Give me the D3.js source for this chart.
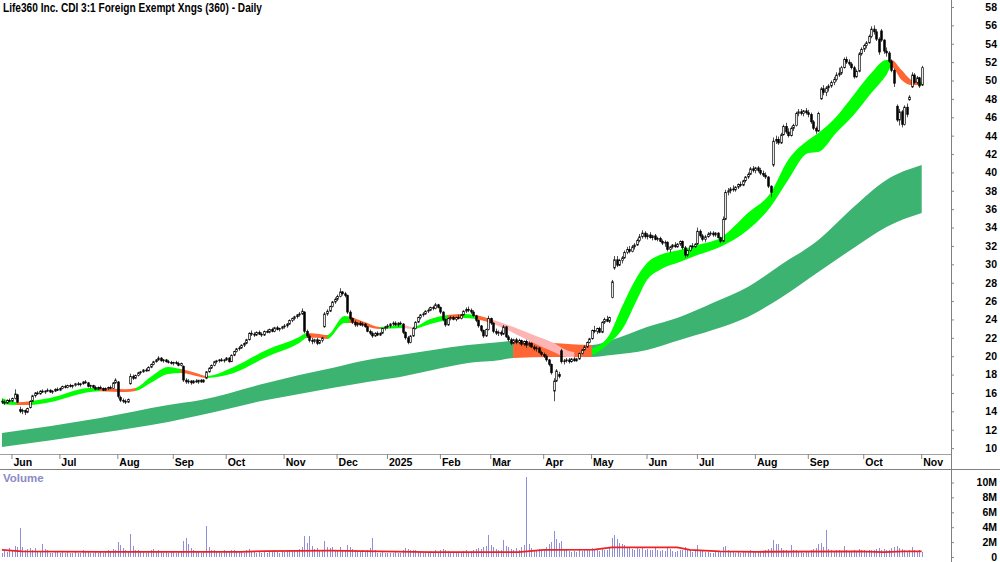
<!DOCTYPE html>
<html>
<head>
<meta charset="utf-8">
<script src="https://cdn.jsdelivr.net/npm/d3@7"></script>
<style>
  html, body { margin: 0; padding: 0; background: #fff; }
  svg { display: block; font-family: "Liberation Sans", Arial, sans-serif; }
</style>
</head>
<body>
<div id="chart"></div>
<script>
const title = 'Life360 Inc. CDI 3:1 Foreign Exempt Xngs (360) - Daily';

// ASX trading calendar
const firstDay = '2024-05-28';
const lastDay = '2025-11-03';
const holidays = ['2024-06-10', '2024-12-25', '2024-12-26', '2025-01-01', '2025-01-27',
  '2025-04-18', '2025-04-21', '2025-04-25', '2025-06-09'];

// daily [open, high, low, close, volume in millions]
const may24 = [[15.1,15.3,14.8,15.0,0.6],[15.0,15.2,14.7,14.9,0.9],[14.9,15.3,14.8,15.2,0.7],[15.2,15.4,15.0,15.1,1.2]];
const jun24 = [[15.1,15.5,15.0,15.4,0.8],[15.4,16.4,15.3,15.9,1.5],[15.8,15.9,14.9,15.0,1.3],[14.2,14.5,13.8,14.0,3.9],[14.0,14.3,13.7,14.1,1.4],[14.1,14.2,13.6,13.9,1.0],[13.9,14.4,13.8,14.3,1.1],[14.4,15.2,14.3,15.1,1.2],[15.1,15.8,15.0,15.7,0.9],[15.7,16.1,15.5,16.0,1.2],[16.0,16.2,15.8,15.9,0.7],[15.9,16.3,15.8,16.2,0.8],[16.2,16.4,16.0,16.1,1.8],[16.1,16.3,15.9,16.2,1.1],[16.2,16.5,16.1,16.3,0.9],[16.3,16.4,16.0,16.1,0.6],[16.1,16.3,15.9,16.2,0.6],[16.2,16.5,16.1,16.4,0.7],[16.4,16.6,16.2,16.3,0.8]];
const jul24 = [[16.3,16.6,16.2,16.5,0.5],[16.5,16.8,16.4,16.7,0.8],[16.7,16.9,16.5,16.6,0.6],[16.6,16.9,16.5,16.8,0.7],[16.8,17.0,16.6,16.7,0.5],[16.7,16.9,16.5,16.8,0.6],[16.8,17.1,16.7,17.0,0.8],[17.0,17.2,16.8,16.9,0.6],[16.9,17.1,16.7,17.0,0.5],[17.0,17.3,16.9,17.2,0.9],[17.2,17.4,17.0,17.1,0.7],[17.1,17.2,16.6,16.7,0.8],[16.7,16.9,16.5,16.8,0.6],[16.8,16.9,16.5,16.6,0.5],[16.6,16.8,16.3,16.4,0.7],[16.4,16.7,16.3,16.6,0.6],[16.6,16.8,16.4,16.5,0.8],[16.5,16.6,16.2,16.3,0.6],[16.3,16.6,16.2,16.5,0.7],[16.5,16.7,16.3,16.6,1.0],[16.6,16.8,16.4,16.5,0.7],[16.5,17.2,16.5,17.1,1.1],[17.1,17.6,17.0,17.4,0.9]];
const aug24 = [[17.2,17.3,15.4,15.6,2.0],[15.5,15.7,15.0,15.2,1.6],[15.2,15.4,14.9,15.1,1.2],[15.1,15.3,14.8,15.0,0.9],[15.0,15.4,14.9,15.3,0.8],[17.0,18.1,16.9,17.8,3.1],[17.8,18.0,17.4,17.6,1.5],[17.6,18.0,17.5,17.9,1.0],[17.9,18.3,17.8,18.2,0.9],[18.2,18.4,18.0,18.3,0.8],[18.3,18.6,18.2,18.5,0.7],[18.5,18.7,18.3,18.4,0.6],[18.4,18.9,18.4,18.8,0.8],[18.8,19.2,18.7,19.1,0.9],[19.1,19.5,19.0,19.4,1.1],[19.4,19.7,19.3,19.6,0.8],[19.6,20.0,19.5,19.8,0.9],[19.8,19.9,19.4,19.5,0.7],[19.5,19.7,19.3,19.6,0.6],[19.6,19.7,19.3,19.4,0.7],[19.4,19.6,19.2,19.3,0.6],[19.3,19.5,19.1,19.2,0.8]];
const sep24 = [[19.2,19.4,19.0,19.3,0.7],[19.3,19.5,19.1,19.2,0.6],[19.2,19.4,18.9,19.0,0.8],[19.0,19.3,18.9,19.2,0.7],[18.9,19.0,17.2,17.4,2.2],[17.4,17.6,17.0,17.2,2.6],[17.2,17.5,17.0,17.3,1.8],[17.3,17.4,16.9,17.1,1.2],[17.1,17.4,17.0,17.3,0.9],[17.3,17.5,17.1,17.2,0.8],[17.2,17.4,17.0,17.4,0.7],[17.4,17.5,17.1,17.2,0.6],[17.2,17.5,17.1,17.4,0.8],[17.6,18.4,17.5,18.3,4.1],[18.3,18.8,18.2,18.7,1.3],[18.7,19.1,18.6,19.0,1.0],[19.0,19.5,18.9,19.4,0.9],[19.4,19.6,19.2,19.5,0.8],[19.5,19.7,19.3,19.6,0.7],[19.6,19.8,19.4,19.5,0.6],[19.5,19.7,19.3,19.6,0.9]];
const oct24 = [[19.6,19.9,19.5,19.8,0.7],[19.8,19.9,19.3,19.4,0.8],[19.4,20.2,19.4,20.1,1.0],[20.1,20.6,20.0,20.5,0.9],[20.5,20.9,20.4,20.8,0.8],[20.8,21.1,20.6,20.9,0.7],[20.9,21.3,20.8,21.2,0.8],[21.2,21.5,21.0,21.4,0.6],[21.4,21.9,21.3,21.8,0.9],[21.8,22.6,21.7,22.5,1.1],[22.5,22.8,22.2,22.4,0.8],[22.4,22.6,22.1,22.3,0.7],[22.3,22.7,22.2,22.6,0.6],[22.6,22.8,22.3,22.4,0.7],[22.4,22.6,22.1,22.3,0.6],[22.3,22.8,22.2,22.7,0.8],[22.7,22.9,22.5,22.6,0.6],[22.6,23.0,22.5,22.9,0.7],[22.9,23.1,22.6,22.7,0.8],[22.7,23.2,22.6,23.1,0.9],[23.1,23.3,22.8,22.9,0.7],[22.9,23.1,22.7,23.0,0.6],[23.0,23.3,22.9,23.2,0.8]];
const nov24 = [[23.2,23.5,23.0,23.3,0.7],[23.3,23.6,23.1,23.5,0.8],[23.5,24.0,23.4,23.9,0.9],[23.9,24.2,23.7,24.1,0.8],[24.1,24.4,23.9,24.3,0.9],[24.3,24.6,24.1,24.5,1.0],[24.5,24.8,24.3,24.6,1.1],[24.6,25.2,24.5,24.9,1.3],[24.8,24.9,22.5,22.7,2.8],[22.7,22.9,22.0,22.2,1.9],[22.2,22.4,21.5,21.7,2.8],[21.7,22.0,21.3,21.6,1.5],[21.6,21.9,21.4,21.8,1.1],[21.8,22.0,21.2,21.4,1.2],[21.4,21.8,21.3,21.7,0.9],[21.7,22.1,21.5,22.0,1.0],[23.2,24.8,23.1,24.6,2.1],[24.6,25.1,24.4,24.9,1.4],[24.9,25.5,24.8,25.4,1.2],[25.4,26.0,25.3,25.9,1.3],[25.9,26.4,25.7,26.2,1.0]];
const dec24 = [[26.2,26.7,26.0,26.5,1.0],[26.5,27.4,26.4,27.0,1.3],[27.0,27.1,26.6,26.8,0.9],[26.8,27.0,26.4,26.6,0.8],[26.6,26.7,24.6,24.8,1.6],[24.8,25.0,23.9,24.1,1.4],[24.1,24.2,23.5,23.7,1.1],[23.7,23.9,23.2,23.4,0.9],[23.4,23.7,23.2,23.6,0.8],[23.6,23.8,23.3,23.4,0.7],[23.4,23.7,23.2,23.5,0.9],[23.5,23.6,23.1,23.2,0.8],[23.2,23.3,22.6,22.7,1.0],[22.7,22.9,22.3,22.5,1.2],[22.5,22.7,22.0,22.2,2.6],[22.2,22.6,22.1,22.5,0.9],[22.5,22.7,22.2,22.3,0.6],[22.3,22.6,22.2,22.5,0.5],[22.5,23.1,22.4,23.0,0.7],[23.0,23.3,22.8,23.2,0.6]];
const jan25 = [[23.2,23.5,23.0,23.3,0.6],[23.3,23.6,23.1,23.5,0.5],[23.5,23.8,23.3,23.6,0.6],[23.6,23.8,23.3,23.4,0.7],[23.4,23.7,23.2,23.6,0.6],[23.6,23.8,23.4,23.5,0.5],[23.5,23.6,22.4,22.6,1.0],[22.6,22.7,21.8,22.0,1.2],[22.0,22.2,21.3,21.5,1.1],[21.5,22.3,21.4,22.2,0.9],[22.2,23.2,22.1,23.0,1.0],[23.0,23.8,22.9,23.7,0.9],[23.7,24.3,23.6,24.2,0.8],[24.2,24.6,24.0,24.5,0.7],[24.5,24.8,24.3,24.6,0.6],[24.6,25.0,24.5,24.9,0.7],[24.9,25.2,24.7,25.0,0.6],[25.0,25.4,24.9,25.3,0.8],[25.3,25.5,25.0,25.2,0.6],[25.2,25.8,25.1,25.6,0.9],[25.6,25.7,25.2,25.3,0.7]];
const feb25 = [[25.3,25.4,24.6,24.8,0.9],[24.8,24.9,23.8,24.0,1.1],[24.0,24.1,23.2,23.4,1.0],[23.4,24.2,23.3,24.1,0.8],[24.1,24.4,23.9,24.2,0.7],[24.2,24.4,23.9,24.0,0.6],[24.0,24.3,23.8,24.2,0.7],[24.2,24.5,24.0,24.1,0.6],[24.1,24.6,24.0,24.5,0.7],[24.5,25.0,24.4,24.9,0.8],[24.9,25.3,24.7,25.1,0.9],[25.1,25.4,24.8,25.0,0.7],[25.0,25.2,24.6,24.8,0.8],[24.8,25.0,24.3,24.4,1.0],[24.4,24.5,23.7,23.9,1.1],[23.9,24.0,23.1,23.3,1.2],[23.3,23.4,22.6,22.8,1.1],[22.8,22.9,22.0,22.2,1.3],[22.2,23.0,22.1,22.9,1.5],[22.9,24.4,22.8,24.1,3.0]];
const mar25 = [[24.1,24.2,23.4,23.6,1.6],[23.6,23.7,22.5,22.7,1.3],[22.7,23.0,22.3,22.5,1.1],[22.5,22.8,22.2,22.6,0.9],[22.6,22.8,22.2,22.4,1.0],[22.4,23.4,22.3,23.2,2.3],[23.2,23.3,22.0,22.1,1.5],[22.1,22.3,21.6,21.8,1.3],[21.8,22.0,21.2,21.4,1.1],[21.4,21.9,21.3,21.8,1.0],[21.8,22.0,21.3,21.5,1.2],[21.5,21.9,21.3,21.7,0.9],[21.7,21.8,21.1,21.3,1.4],[21.3,21.7,21.1,21.6,1.6],[21.6,21.8,20.9,21.2,10.8],[21.2,21.6,21.0,21.4,1.8],[21.4,21.5,20.9,21.0,1.2],[21.0,21.2,20.6,20.8,1.0],[20.8,21.1,20.5,20.9,0.9],[20.9,21.0,20.3,20.4,1.1],[20.4,20.6,20.0,20.2,1.0]];
const apr25 = [[20.2,20.4,19.8,20.0,1.1],[20.0,20.2,19.4,19.6,1.3],[19.6,19.7,18.9,19.1,1.8],[19.1,19.2,18.0,18.2,2.0],[16.2,17.6,15.1,17.3,3.5],[17.3,18.6,17.2,18.4,2.4],[18.0,18.3,17.6,17.8,1.9],[20.6,20.8,19.2,19.4,2.2],[19.4,19.7,19.1,19.5,1.0],[19.5,19.8,19.3,19.6,0.9],[19.6,19.8,19.2,19.4,0.8],[19.4,19.8,19.3,19.7,0.7],[19.7,19.9,19.4,19.5,0.8],[19.5,19.8,19.4,19.7,0.7],[19.7,20.4,19.6,20.3,0.9],[20.3,20.8,20.2,20.7,0.8],[20.7,21.2,20.6,21.0,1.0],[21.0,21.6,20.9,21.5,0.9],[21.5,22.0,21.4,21.9,1.1]];
const may25 = [[21.9,22.9,21.8,22.8,1.2],[22.8,23.3,22.5,22.7,1.0],[22.7,23.1,22.4,23.0,0.9],[23.0,23.2,22.5,22.6,0.8],[22.6,23.8,22.5,23.7,1.1],[23.7,24.2,23.5,24.0,1.0],[24.0,24.4,23.7,23.8,0.9],[23.8,24.3,23.6,24.2,1.2],[26.4,28.3,26.3,28.1,2.6],[29.6,30.9,29.4,30.5,3.0],[30.5,30.9,29.7,29.9,2.4],[29.9,30.6,29.8,30.4,1.9],[30.4,30.9,30.1,30.7,1.8],[30.7,31.5,30.6,31.3,1.6],[31.3,31.9,31.1,31.6,1.2],[31.6,32.0,31.2,31.4,1.3],[31.4,32.1,31.3,31.9,1.1],[31.9,32.3,31.6,32.1,1.0],[32.1,32.8,32.0,32.6,1.2],[32.6,33.3,32.4,33.0,1.1],[33.0,33.7,32.8,33.4,1.3],[33.4,33.6,32.8,33.0,1.0]];
const jun25 = [[33.0,33.4,32.7,33.2,1.1],[33.2,33.5,32.8,32.9,1.0],[32.9,33.2,32.6,33.1,0.9],[33.1,33.3,32.6,32.7,1.2],[32.7,33.0,32.5,32.8,0.9],[32.8,33.0,32.4,32.5,0.8],[32.5,32.7,32.1,32.3,0.9],[32.3,32.6,31.9,32.4,0.8],[32.4,32.5,31.4,31.6,1.4],[31.6,32.0,31.3,31.9,1.1],[31.9,32.2,31.7,32.1,0.8],[32.1,32.4,31.8,31.9,0.7],[31.9,32.3,31.8,32.2,0.8],[32.2,32.6,32.0,32.5,0.9],[32.5,32.6,31.6,31.8,1.0],[31.8,32.0,30.7,31.0,1.3],[31.0,31.6,30.8,31.5,1.0],[31.5,32.1,31.4,32.0,0.9],[32.0,32.3,31.7,31.9,0.7],[31.9,32.3,31.8,32.2,0.8]];
const jul25 = [[32.2,34.0,32.1,33.6,1.6],[33.6,33.8,32.9,33.1,1.0],[33.1,33.3,32.5,32.7,0.8],[32.7,33.2,32.4,33.0,0.7],[33.0,33.5,32.9,33.3,0.7],[33.3,33.6,33.1,33.4,0.6],[33.4,33.6,33.0,33.2,0.6],[33.2,33.5,33.0,33.4,0.7],[33.4,33.5,32.8,32.9,0.8],[32.9,33.0,32.3,32.5,0.8],[32.5,35.2,32.4,34.9,1.4],[34.9,38.1,34.8,37.8,1.5],[37.8,38.3,37.5,38.0,1.0],[38.0,38.4,37.7,38.2,0.8],[38.2,38.6,37.9,38.1,0.7],[38.1,38.5,37.9,38.4,0.6],[38.4,38.8,38.2,38.7,0.7],[38.7,39.0,38.4,38.6,0.6],[38.6,39.2,38.5,39.1,0.8],[39.1,39.6,38.9,39.5,0.7],[39.5,40.0,39.3,39.8,0.8],[39.8,40.6,39.7,40.4,0.9],[40.4,40.7,40.0,40.2,0.7]];
const aug25 = [[40.2,40.6,39.9,40.5,0.8],[40.5,40.7,40.0,40.2,0.7],[40.2,40.5,39.7,39.9,0.8],[39.9,40.2,39.5,39.7,0.7],[39.7,40.0,39.3,39.5,0.9],[39.5,39.6,38.3,38.5,1.1],[38.5,38.6,37.3,37.8,1.2],[40.8,43.8,40.6,43.4,2.3],[43.4,44.0,43.1,43.6,1.8],[43.6,43.9,43.0,43.2,1.7],[43.2,44.3,43.1,44.1,1.2],[44.1,45.2,44.0,45.0,1.0],[45.0,45.4,44.2,44.4,0.9],[44.4,44.8,43.8,44.0,0.8],[44.0,45.0,43.9,44.8,1.6],[44.8,45.3,44.5,45.1,0.9],[45.1,46.6,45.0,46.4,1.0],[46.4,46.9,46.1,46.6,0.8],[46.6,46.9,46.2,46.4,0.7],[46.4,46.8,46.1,46.7,0.6],[46.7,47.0,46.3,46.5,0.7]];
const sep25 = [[46.5,46.8,46.0,46.3,0.8],[46.3,46.5,45.3,45.5,1.0],[45.5,45.7,44.6,44.8,1.1],[44.8,45.0,44.2,44.5,1.2],[44.5,46.6,44.4,46.4,1.8],[48.0,49.3,47.9,49.1,1.9],[49.1,49.5,48.4,48.7,1.4],[48.7,49.4,48.3,49.2,3.6],[49.2,49.6,48.8,49.4,1.1],[49.4,50.0,49.2,49.8,0.9],[49.8,50.4,49.5,50.1,0.8],[50.1,50.9,49.9,50.6,0.9],[50.6,51.4,50.4,50.8,1.0],[50.8,51.6,50.6,51.4,0.8],[51.4,52.5,51.3,52.3,1.5],[52.3,52.6,51.8,52.0,1.0],[52.0,52.3,51.6,51.8,0.8],[51.8,52.0,51.2,51.4,0.7],[51.4,51.6,50.2,50.4,1.0],[50.4,51.2,50.3,51.0,0.8],[51.0,53.1,50.9,52.9,1.1],[52.9,53.6,52.7,53.4,0.9]];
const oct25 = [[53.4,54.0,53.1,53.8,0.9],[53.8,54.3,53.5,54.1,0.8],[54.1,55.0,54.0,54.8,0.9],[54.8,55.9,54.6,55.6,1.0],[55.6,56.0,55.0,55.3,0.9],[55.3,55.6,54.3,54.5,1.1],[54.5,54.7,52.8,53.1,1.2],[55.4,55.6,54.2,54.4,1.0],[54.4,54.5,52.9,53.2,1.1],[53.2,53.6,52.6,53.0,0.9],[53.0,53.2,51.9,52.1,1.0],[52.1,52.3,50.9,51.1,1.2],[51.1,51.3,49.3,49.7,1.4],[47.2,47.4,45.5,45.7,1.5],[45.7,46.9,45.1,46.6,1.2],[46.6,46.8,44.9,45.2,1.1],[45.2,47.3,45.1,47.1,1.0],[47.1,47.5,46.0,46.3,0.8],[47.9,48.4,47.8,48.2,0.9],[49.3,50.9,49.2,50.6,1.3],[50.6,50.8,49.6,49.8,1.0],[49.8,50.5,49.6,50.3,0.8],[50.3,50.4,49.2,49.4,0.9]];
const nov25 = [[49.5,51.6,49.4,51.4,0.7]];

// moving average ribbons, read at sample days (index into trading days)
const shortBandIdx = [0,6,11,19,35,39,49,53,59,66,71,77,81,92,105,118,121,125,129,136,138,144,150,159,163,170,177,183,188,195,203,211,219,224,227,234,241,246,252,256,261,269,276,285,296,305,312,320,324,331,338,345,351,353,357,361,365];
const shortBandTop = [15.45,15.0,15.1,15.45,16.54,16.54,16.4,16.54,17.74,18.83,18.6,18.17,17.85,18.83,20.68,22.09,22.53,22.45,22.3,24.38,24.3,23.72,23.18,23.4,23.18,24.05,24.49,24.6,24.49,23.94,23.18,22.31,21.44,20.68,20.46,20.8,22.31,25.35,28.62,30.14,31.0,31.56,32.1,32.86,35.58,37.76,41.35,43.53,44.29,46.03,48.42,50.82,52.23,52.23,51.14,50.06,49.84];
const shortBandBot = [14.8,14.7,14.7,15.0,16.11,16.2,16.1,16.21,17.09,18.07,18.17,17.85,17.63,18.17,19.92,21.44,21.98,22.0,21.87,23.62,23.62,23.29,22.96,23.07,22.96,23.5,23.94,24.16,24.05,23.5,22.53,21.44,20.46,19.92,19.92,20.13,21.44,22.85,26.12,28.29,29.38,30.25,31.0,31.88,33.73,36.24,39.18,42.11,42.22,44.29,46.25,48.64,50.6,51.47,50.06,49.51,49.51];
const shortBandState = [[0,6,'up'],[6,11,'down'],[11,39,'up'],[39,53,'down'],[53,71,'up'],[71,81,'down'],[81,121,'up'],[121,129,'down'],[129,138,'up'],[138,150,'down'],[150,159,'up'],[159,163,'mixed'],[163,177,'up'],[177,183,'down'],[183,188,'up'],[188,195,'down'],[195,227,'mixed'],[227,234,'down'],[234,353,'up'],[353,364,'down'],[364,365,'up']];

const longBandIdx = [0,39,66,79,105,118,131,145,158,171,185,198,203,218,234,242,256,269,282,296,309,324,338,351,365];
const longBandTop = [11.65,13.28,14.69,15.24,17.09,17.96,18.72,19.59,20.13,20.68,21.22,21.55,21.66,21.44,21.22,21.77,23.18,24.27,25.79,27.53,29.93,32.65,36.24,39.18,40.81];
const longBandBot = [10.12,11.65,12.84,13.6,15.24,15.89,16.54,17.2,17.74,18.5,19.26,19.59,19.81,19.92,19.92,20.13,20.68,21.77,22.85,24.27,26.34,29.16,31.78,34.07,35.58];
const longBandState = [[0,203,'up'],[203,234,'down'],[234,365,'up']];

// volume moving average (millions)
const volMaIdx = [0,8,40,95,105,130,150,170,205,215,235,242,268,273,285,300,340,350,358,365];
const volMaVal = [0.95,0.75,0.7,0.7,0.8,0.85,0.75,0.65,0.65,0.95,1.0,1.3,1.3,0.95,0.75,0.7,0.75,0.65,0.75,0.75];

const priceTicks = d3.range(10, 59, 2);
const volTicks = [0, 2, 4, 6, 8, 10];

// ---------------------------------------------------------------
const W = 1000, H = 562;
const axisX = 951;
const priceBottom = 454;
const sepY = 469;

const parse = d3.timeParse('%Y-%m-%d');
const fmt = d3.timeFormat('%Y-%m-%d');
const days = d3.timeDay.range(parse(firstDay), d3.timeDay.offset(parse(lastDay), 1))
  .filter(d => d.getDay() % 6 !== 0 && !holidays.includes(fmt(d)));
const rows = [].concat(may24, jun24, jul24, aug24, sep24, oct24, nov24, dec24,
  jan25, feb25, mar25, apr25, may25, jun25, jul25, aug25, sep25, oct25, nov25);
const data = days.map((d, i) => {
  const r = rows[i] || rows[rows.length - 1];
  return { i, date: d, o: r[0], h: r[1], l: r[2], c: r[3], v: r[4] };
});

const step = 2.52;
const x = d3.scaleBand().domain(d3.range(days.length)).range([0.64, 0.64 + step * days.length]);
const cx = i => x(i) + x.bandwidth() / 2;
const px = i => Math.round(cx(i));
const y = d3.scaleLinear().domain([10, 58]).range([448.1, 7]);
const yv = d3.scaleLinear().domain([0, 10]).range([557, 482.5]);

const colors = { up: '#00ff00', down: '#ff6633', mixed: '#ffb4b4' };
const longColors = { up: '#3cb371', down: '#ff6633' };

const svg = d3.select('#chart').append('svg').attr('width', W).attr('height', H);
svg.append('rect').attr('width', W).attr('height', H).attr('fill', '#fff');
const defs = svg.append('defs');
defs.append('clipPath').attr('id', 'clipPrice')
  .append('rect').attr('x', 0).attr('y', 0).attr('width', axisX).attr('height', priceBottom);
defs.append('clipPath').attr('id', 'clipVol')
  .append('rect').attr('x', 0).attr('y', sepY + 1).attr('width', axisX).attr('height', H - sepY);

const gPrice = svg.append('g').attr('clip-path', 'url(#clipPrice)');

function drawBand(name, idx, top, bot, segs, palette) {
  const pts = idx.map((d, k) => ({ i: d, t: top[k], b: bot[k] }));
  const path = d3.area()
    .x(p => cx(p.i))
    .y0(p => y(p.b))
    .y1(p => y(p.t))
    .curve(d3.curveMonotoneX)(pts);
  Object.keys(palette).forEach(state => {
    const list = segs.filter(s => s[2] === state);
    if (!list.length) return;
    const id = `clip-${name}-${state}`;
    const cp = defs.append('clipPath').attr('id', id);
    list.forEach(s => {
      cp.append('rect')
        .attr('x', cx(s[0]) - 0.3)
        .attr('y', 0)
        .attr('width', cx(s[1]) - cx(s[0]) + 0.6)
        .attr('height', priceBottom);
    });
    gPrice.append('g').attr('clip-path', `url(#${id})`)
      .append('path').attr('d', path).attr('fill', palette[state]);
  });
}

drawBand('long', longBandIdx, longBandTop, longBandBot, longBandState, longColors);
drawBand('short', shortBandIdx, shortBandTop, shortBandBot, shortBandState, colors);

// candles: thin wick, narrow body
const gCandle = gPrice.append('g');
gCandle.selectAll('line').data(data).join('line')
  .attr('x1', d => px(d.i) + 0.5)
  .attr('x2', d => px(d.i) + 0.5)
  .attr('y1', d => y(d.h))
  .attr('y2', d => y(d.l))
  .attr('stroke', '#222')
  .attr('stroke-width', 0.8);
gCandle.selectAll('rect').data(data).join('rect')
  .attr('x', d => px(d.i) - 0.3)
  .attr('width', 1.6)
  .attr('y', d => y(Math.max(d.o, d.c)))
  .attr('height', d => Math.max(0.8, Math.abs(y(d.o) - y(d.c))))
  .attr('fill', d => d.c >= d.o ? '#fff' : '#000')
  .attr('stroke', '#000')
  .attr('stroke-width', 0.7);

// volume
const gVol = svg.append('g').attr('clip-path', 'url(#clipVol)');
gVol.append('g').attr('shape-rendering', 'crispEdges')
  .selectAll('line').data(data).join('line')
  .attr('x1', d => px(d.i) + 0.5)
  .attr('x2', d => px(d.i) + 0.5)
  .attr('y1', yv(0))
  .attr('y2', d => yv(d.v))
  .attr('stroke', '#8f8fd6')
  .attr('stroke-width', 1);
const maPts = volMaIdx.map((d, k) => [d, volMaVal[k]]);
gVol.append('path')
  .attr('d', d3.line().x(p => cx(p[0])).y(p => yv(p[1]))(maPts))
  .attr('fill', 'none')
  .attr('stroke', '#f02020')
  .attr('stroke-width', 1.8);

// frame lines
svg.append('line').attr('x1', 0).attr('x2', axisX).attr('y1', priceBottom + 0.5).attr('y2', priceBottom + 0.5)
  .attr('stroke', '#a0a0a0');
svg.append('line').attr('x1', 0).attr('x2', W).attr('y1', sepY + 0.5).attr('y2', sepY + 0.5)
  .attr('stroke', '#808080');
svg.append('line').attr('x1', axisX + 0.5).attr('x2', axisX + 0.5).attr('y1', 0).attr('y2', H)
  .attr('stroke', '#808080');

function styleAxis(g) {
  g.attr('font-family', null).attr('font-size', null);
  g.select('.domain').remove();
  g.selectAll('.tick line').attr('stroke', '#888');
  g.selectAll('.tick text')
    .attr('font-size', 10.5)
    .attr('font-weight', 'bold')
    .attr('fill', '#000');
}

// price axis
const gY = svg.append('g').attr('transform', `translate(${axisX},0)`)
  .call(d3.axisRight(y).tickValues(priceTicks).tickSize(3).tickFormat(d3.format('d')));
styleAxis(gY);
gY.selectAll('.tick text').attr('x', 46).attr('text-anchor', 'end');

// volume axis
const gYV = svg.append('g').attr('transform', `translate(${axisX},0)`)
  .call(d3.axisRight(yv).tickValues(volTicks).tickSize(3).tickFormat(v => v === 0 ? '0' : v + 'M'));
styleAxis(gYV);
gYV.selectAll('.tick text').attr('x', 46).attr('text-anchor', 'end');

// month axis
const monthIdx = data.filter((d, k) => k > 0 && d.date.getMonth() !== data[k - 1].date.getMonth()).map(d => d.i);
const monthFmt = d3.timeFormat('%b');
const gX = svg.append('g').attr('transform', `translate(0,${priceBottom})`)
  .call(d3.axisBottom(x).tickValues(monthIdx).tickSize(5)
    .tickFormat(i => days[i].getMonth() === 0 ? String(days[i].getFullYear()) : monthFmt(days[i])));
styleAxis(gX);
gX.selectAll('.tick text').attr('x', 1.5).attr('y', 12).attr('dy', 0).attr('text-anchor', 'start');

// labels
svg.append('text')
  .attr('x', 3).attr('y', 12)
  .attr('font-family', '"Liberation Sans Narrow", "Arial Narrow", "Liberation Sans", Arial, sans-serif')
  .attr('font-size', 12)
  .attr('font-weight', 'bold')
  .attr('textLength', 259)
  .attr('lengthAdjust', 'spacingAndGlyphs')
  .text(title);
svg.append('text')
  .attr('x', 3).attr('y', 482)
  .attr('font-size', 11.5)
  .attr('font-weight', 'bold')
  .attr('fill', '#8a8ac8')
  .text('Volume');
</script>
</body>
</html>
